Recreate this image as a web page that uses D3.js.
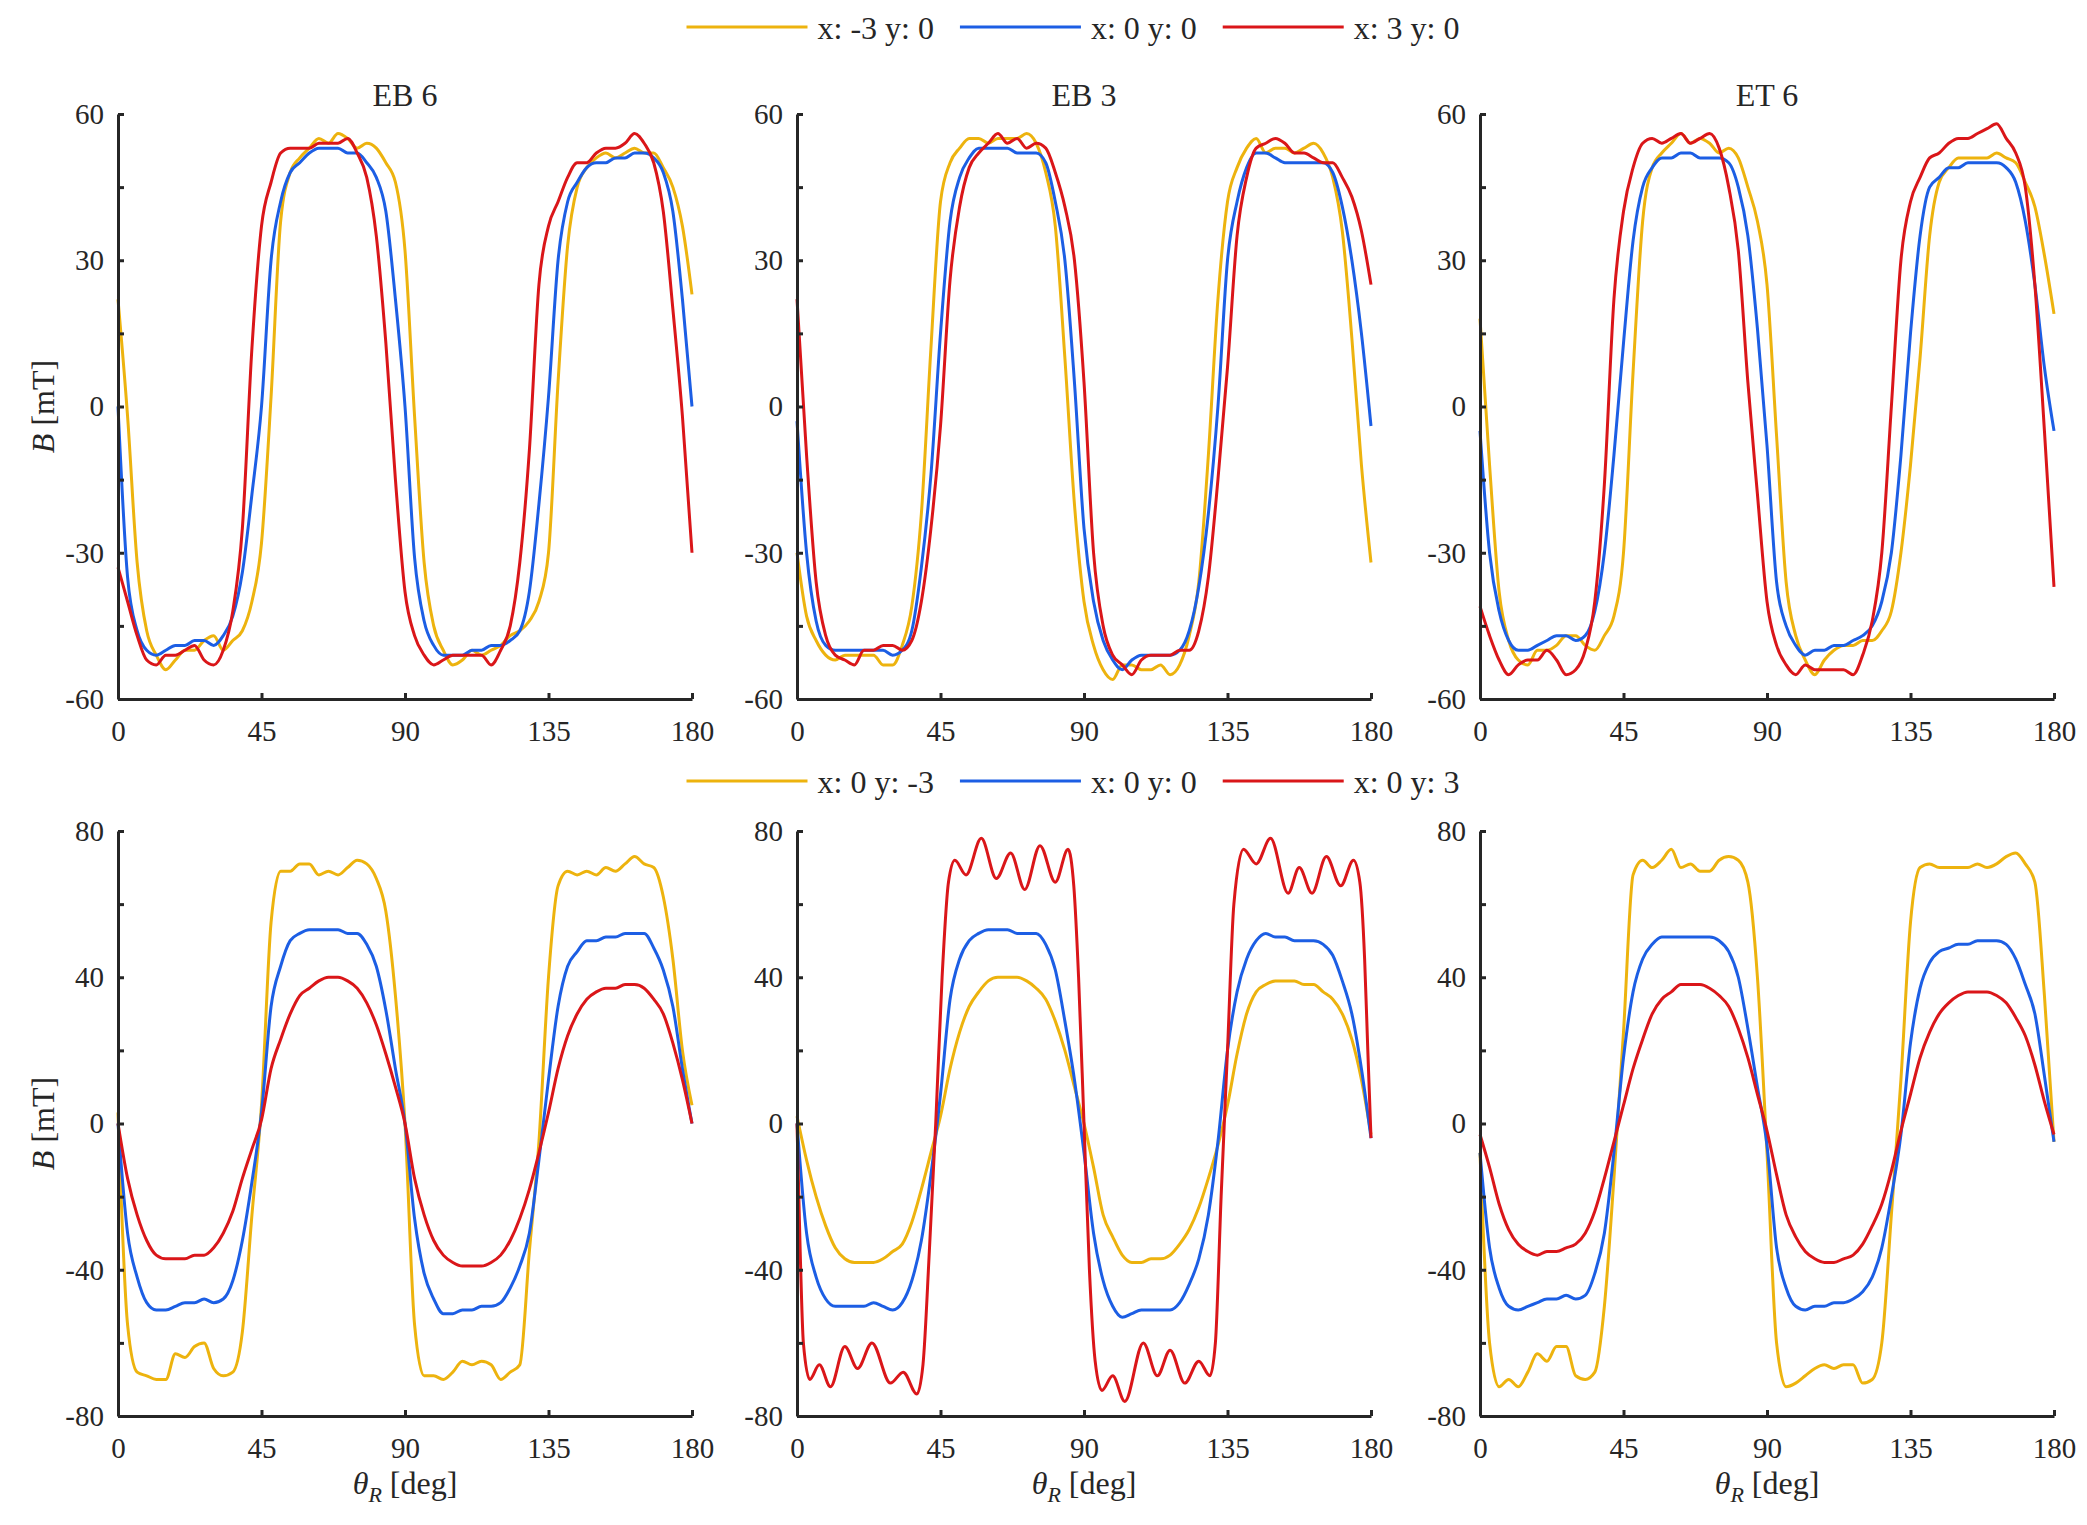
<!DOCTYPE html>
<html>
<head>
<meta charset="utf-8">
<script src="https://cdn.jsdelivr.net/npm/d3@7"></script>
<style>
  body { margin: 0; background: #fff; }
  text { font-family: "Liberation Serif", "Times New Roman", serif; fill: #262626; }
</style>
</head>
<body>
<svg id="chart"></svg>
<script>
// rotor angle samples (deg)
const theta = [0,3,6,9,12,15,18,21,24,27,30,33,36,39,42,45,48,51,54,57,60,63,66,69,72,75,78,81,84,87,90,
  93,96,99,102,105,108,111,114,117,120,123,126,129,132,135,138,141,144,147,150,153,156,159,162,165,168,171,174,177,180];
// the rippled curve (EB 3, y: 3) is read at its peaks and dips
const thetaRipple = [0,1,2,4,7,10.5,15,19,23.5,29.3,33.3,37.6,39.5,41.5,43.5,45.5,47.5,49.5,53,57.8,62.5,67,71.4,76.2,81,85,86.8,88.3,90,
  91.7,93.5,95.6,99,102.8,108.6,113,117,121.6,126,129.5,131.2,133,135,137,140,144,148.5,154,157.5,161.5,166,170.5,174.5,176.5,178,179,180];

const panelTitles = ["EB 6", "EB 3", "ET 6"];
const legendTop = ["x: -3 y: 0", "x: 0 y: 0", "x: 3 y: 0"];
const legendBottom = ["x: 0 y: -3", "x: 0 y: 0", "x: 0 y: 3"];
const xTicks = [0, 45, 90, 135, 180];
const yTicksTop = [-60, -45, -30, -15, 0, 15, 30, 45, 60];
const yTicksBottom = [-80, -60, -40, -20, 0, 20, 40, 60, 80];
const colors = ["#EDB30E", "#1C5EE4", "#DA1619"];

// top row: x offsets
const eb6_xm3 = [22,-2,-32,-46,-51,-54,-52,-50,-50,-48,-47,-50,-48,-46,-40,-28,2,38,48,51,53,55,54,56,55,53,54,53,50,46,32,
  -2,-32,-45,-50,-53,-52,-50,-51,-50,-49,-47,-46,-44,-40,-30,5,33,45,49,51,52,51,52,53,52,52,49,45,37,23];
const eb6_x0 = [0,-35,-46,-50,-51,-50,-49,-49,-48,-48,-49,-47,-43,-34,-18,0,30,42,48,50,52,53,53,53,52,52,50,47,40,22,0,
  -31,-44,-49,-51,-51,-51,-50,-50,-49,-49,-48,-46,-38,-20,2,30,42,46,49,50,50,51,51,52,52,51,48,40,22,0];
const eb6_xp3 = [-33,-40,-47,-52,-53,-51,-51,-50,-49,-52,-53,-50,-42,-25,12,37,46,52,53,53,53,54,54,54,55,52,47,35,13,-15,-38,
  -47,-51,-53,-52,-51,-51,-51,-51,-53,-50,-45,-32,-9,25,37,42,47,50,50,52,53,53,54,56,54,50,40,20,-2,-30];

const eb3_xm3 = [-30,-43,-48,-51,-52,-51,-51,-51,-51,-53,-53,-49,-41,-22,12,42,50,53,55,55,54,55,55,55,56,54,48,37,10,-20,-40,
  -49,-54,-56,-53,-53,-54,-54,-53,-55,-53,-47,-36,-10,22,42,49,53,55,52,53,53,52,53,54,52,47,36,14,-12,-32];
const eb3_x0 = [-3,-30,-44,-49,-50,-50,-50,-50,-50,-50,-51,-50,-46,-33,-14,15,38,47,51,53,53,53,53,52,52,52,50,42,30,5,-25,
  -40,-48,-52,-54,-52,-51,-51,-51,-51,-50,-46,-37,-22,0,30,42,49,52,52,51,50,50,50,50,50,48,41,30,15,-4];
const eb3_xp3 = [22,-10,-36,-47,-51,-52,-53,-50,-50,-49,-49,-50,-48,-40,-25,-4,26,41,49,52,54,56,54,55,53,54,53,48,41,30,5,
  -30,-45,-51,-53,-55,-52,-51,-51,-51,-50,-50,-46,-35,-15,8,35,47,53,54,55,54,52,52,51,50,50,47,43,36,25];

const et6_xm3 = [18,-12,-38,-48,-52,-53,-50,-50,-49,-47,-47,-49,-50,-47,-43,-30,7,38,49,52,54,56,54,55,54,52,53,51,45,38,25,
  -6,-36,-47,-52,-55,-52,-50,-49,-49,-48,-48,-46,-42,-30,-12,10,35,46,49,51,51,51,51,52,51,50,46,41,31,19];
const et6_x0 = [-5,-30,-42,-48,-50,-50,-49,-48,-47,-47,-48,-47,-42,-30,-10,13,34,45,49,51,51,52,52,51,51,51,50,45,35,16,-8,
  -36,-45,-49,-51,-50,-50,-49,-49,-48,-47,-45,-40,-30,-10,15,35,45,47,49,49,50,50,50,50,49,46,38,25,8,-5];
const et6_xp3 = [-41,-47,-52,-55,-53,-52,-52,-50,-52,-55,-54,-50,-40,-16,22,40,49,54,55,54,55,56,54,55,56,53,45,32,5,-18,-40,
  -49,-53,-55,-53,-54,-54,-54,-54,-55,-51,-44,-30,0,30,42,47,51,52,54,55,55,56,57,58,55,52,45,25,-5,-37];

// bottom row: y offsets
const eb6_ym3 = [3,-55,-68,-69,-70,-70,-63,-64,-61,-60,-67,-69,-68,-57,-25,5,55,69,69,71,71,68,69,68,70,72,71,67,58,35,0,
  -55,-69,-69,-70,-68,-65,-66,-65,-66,-70,-68,-66,-35,-5,40,65,69,68,69,68,70,69,71,73,71,70,62,45,20,5];
const eb6_y0 = [0,-30,-42,-49,-51,-51,-50,-49,-49,-48,-49,-48,-43,-32,-16,3,32,43,50,52,53,53,53,53,52,52,49,43,31,15,0,
  -26,-41,-48,-52,-52,-51,-51,-50,-50,-49,-45,-39,-30,-10,12,32,43,47,50,50,51,51,52,52,52,48,42,32,15,0];
const eb6_yp3 = [0,-15,-25,-32,-36,-37,-37,-37,-36,-36,-34,-30,-24,-15,-7,1,15,23,30,35,37,39,40,40,39,37,33,27,19,10,0,
  -15,-25,-32,-36,-38,-39,-39,-39,-38,-36,-32,-26,-18,-8,3,15,24,30,34,36,37,37,38,38,37,34,30,22,12,0];

const eb3_ym3 = [2,-10,-20,-28,-34,-37,-38,-38,-38,-37,-35,-33,-27,-18,-8,2,15,25,32,36,39,40,40,40,39,37,34,28,20,10,0,
  -12,-25,-31,-36,-38,-38,-37,-37,-36,-33,-29,-23,-15,-6,5,19,30,36,38,39,39,39,38,38,36,34,30,23,12,-3];
const eb3_y0 = [0,-30,-42,-48,-50,-50,-50,-50,-49,-50,-51,-49,-43,-32,-14,8,34,45,50,52,53,53,53,52,52,52,49,42,28,12,-8,
  -30,-43,-50,-53,-52,-51,-51,-51,-51,-49,-44,-37,-25,-5,20,36,45,50,52,51,51,50,50,50,49,46,39,30,15,-4];
const eb3_yp3 = [0,-35,-60,-70,-66,-72,-61,-67,-60,-71,-68,-74,-66,-35,0,40,66,72,68,78,67,74,64,76,66,75,65,40,0,
  -40,-65,-73,-69,-76,-60,-69,-62,-71,-65,-69,-60,-20,20,60,75,71,78,63,70,63,73,65,72,66,45,20,-4];

const et6_ym3 = [-8,-60,-72,-70,-72,-68,-63,-65,-61,-61,-69,-70,-68,-50,-15,25,68,72,70,72,75,70,71,69,69,72,73,72,66,40,-8,
  -60,-72,-71,-69,-67,-66,-67,-66,-66,-71,-70,-60,-25,12,55,70,71,70,70,70,70,71,70,71,73,74,71,66,35,-5];
const et6_y0 = [-8,-34,-45,-50,-51,-50,-49,-48,-48,-47,-48,-47,-41,-30,-8,18,36,45,49,51,51,51,51,51,51,50,47,40,26,10,-6,
  -34,-45,-50,-51,-50,-50,-49,-49,-48,-46,-42,-34,-20,-3,22,37,44,47,48,49,49,50,50,50,49,45,38,30,13,-5];
const et6_yp3 = [-3,-12,-22,-29,-33,-35,-36,-35,-35,-34,-33,-30,-24,-15,-5,5,15,23,30,34,36,38,38,38,37,35,32,26,18,8,-2,
  -14,-25,-31,-35,-37,-38,-38,-37,-36,-33,-28,-22,-13,-2,8,18,25,30,33,35,36,36,36,35,33,29,24,16,6,-3];

// layout
const width = 2087, height = 1525;
const panelX = [118, 797, 1480];
const panelW = 574;
const rowTop = [114, 831];
const panelH = 585;

const rows = [
  { domain: [-60, 60], ticks: yTicksTop, step: 30, legend: legendTop, legendY: 27,
    panels: [[eb6_xm3, eb6_x0, eb6_xp3], [eb3_xm3, eb3_x0, eb3_xp3], [et6_xm3, et6_x0, et6_xp3]].map(p => p.map(v => ({ t: theta, v }))) },
  { domain: [-80, 80], ticks: yTicksBottom, step: 40, legend: legendBottom, legendY: 781,
    panels: [[eb6_ym3, eb6_y0, eb6_yp3], [eb3_ym3, eb3_y0, eb3_yp3], [et6_ym3, et6_y0, et6_yp3]]
      .map(p => p.map(v => ({ t: v === eb3_yp3 ? thetaRipple : theta, v }))) }
];

const svg = d3.select('#chart')
  .attr('width', width)
  .attr('height', height)
  .attr('viewBox', [0, 0, width, height]);

const axisColor = '#262626';

rows.forEach((row, r) => {
  const top = rowTop[r];

  // legend across the top of each row
  const leg = svg.append('g');
  let cx = 0;
  row.legend.forEach((label, i) => {
    leg.append('line')
      .attr('x1', cx).attr('x2', cx + 121)
      .attr('y1', row.legendY).attr('y2', row.legendY)
      .attr('stroke', colors[i]).attr('stroke-width', 3);
    const t = leg.append('text')
      .attr('x', cx + 131).attr('y', row.legendY + 12)
      .attr('font-size', 32)
      .text(label);
    cx += 131 + t.node().getComputedTextLength() + 26;
  });
  const legW = cx - 26;
  leg.attr('transform', `translate(${1073 - legW / 2},0)`);

  row.panels.forEach((series, p) => {
    const x0 = panelX[p];
    const x = d3.scaleLinear().domain([0, 180]).range([x0, x0 + panelW]);
    const y = d3.scaleLinear().domain(row.domain).range([top + panelH, top]);

    const line = d3.line()
      .x(d => x(d[0]))
      .y(d => y(d[1]))
      .curve(d3.curveMonotoneX);

    series.forEach((s, i) => {
      svg.append('path')
        .datum(s.t.map((t, k) => [t, s.v[k]]))
        .attr('fill', 'none')
        .attr('stroke', colors[i])
        .attr('stroke-width', 3)
        .attr('stroke-linejoin', 'round')
        .attr('d', line);
    });

    // axes, ticks pointing inward
    const gx = svg.append('g')
      .attr('transform', `translate(0,${top + panelH})`)
      .call(d3.axisBottom(x).tickValues(xTicks).tickSizeInner(-6).tickSizeOuter(0).tickFormat(d => String(d)));
    gx.selectAll('.tick text').attr('y', 42).attr('dy', null).attr('font-size', 29);

    const gy = svg.append('g')
      .attr('transform', `translate(${x0},0)`)
      .call(d3.axisLeft(y).tickValues(row.ticks).tickSizeInner(-6).tickSizeOuter(0).tickPadding(14)
        .tickFormat(d => d % row.step === 0 ? String(d) : ''));
    gy.selectAll('.tick text').attr('font-size', 29);

    [gx, gy].forEach(g => {
      g.attr('font-family', null);
      g.select('.domain').attr('stroke', axisColor).attr('stroke-width', 3);
      g.selectAll('.tick line').attr('stroke', axisColor).attr('stroke-width', 3);
      g.selectAll('.tick text').attr('fill', axisColor);
    });

    const midX = x0 + panelW / 2;

    if (r === 0) {
      svg.append('text')
        .attr('x', midX).attr('y', 106)
        .attr('text-anchor', 'middle')
        .attr('font-size', 32)
        .text(panelTitles[p]);
    } else {
      const xl = svg.append('text')
        .attr('x', midX).attr('y', 1494)
        .attr('text-anchor', 'middle')
        .attr('font-size', 32);
      xl.append('tspan').attr('font-style', 'italic').text('θ');
      xl.append('tspan').attr('font-style', 'italic').attr('font-size', 22).attr('dy', 8).text('R');
      xl.append('tspan').attr('dy', -8).text(' [deg]');
    }

    if (p === 0) {
      const yl = svg.append('text')
        .attr('transform', `translate(54,${top + panelH / 2}) rotate(-90)`)
        .attr('text-anchor', 'middle')
        .attr('font-size', 32);
      yl.append('tspan').attr('font-style', 'italic').text('B');
      yl.append('tspan').text(' [mT]');
    }
  });
});
</script>
</body>
</html>
